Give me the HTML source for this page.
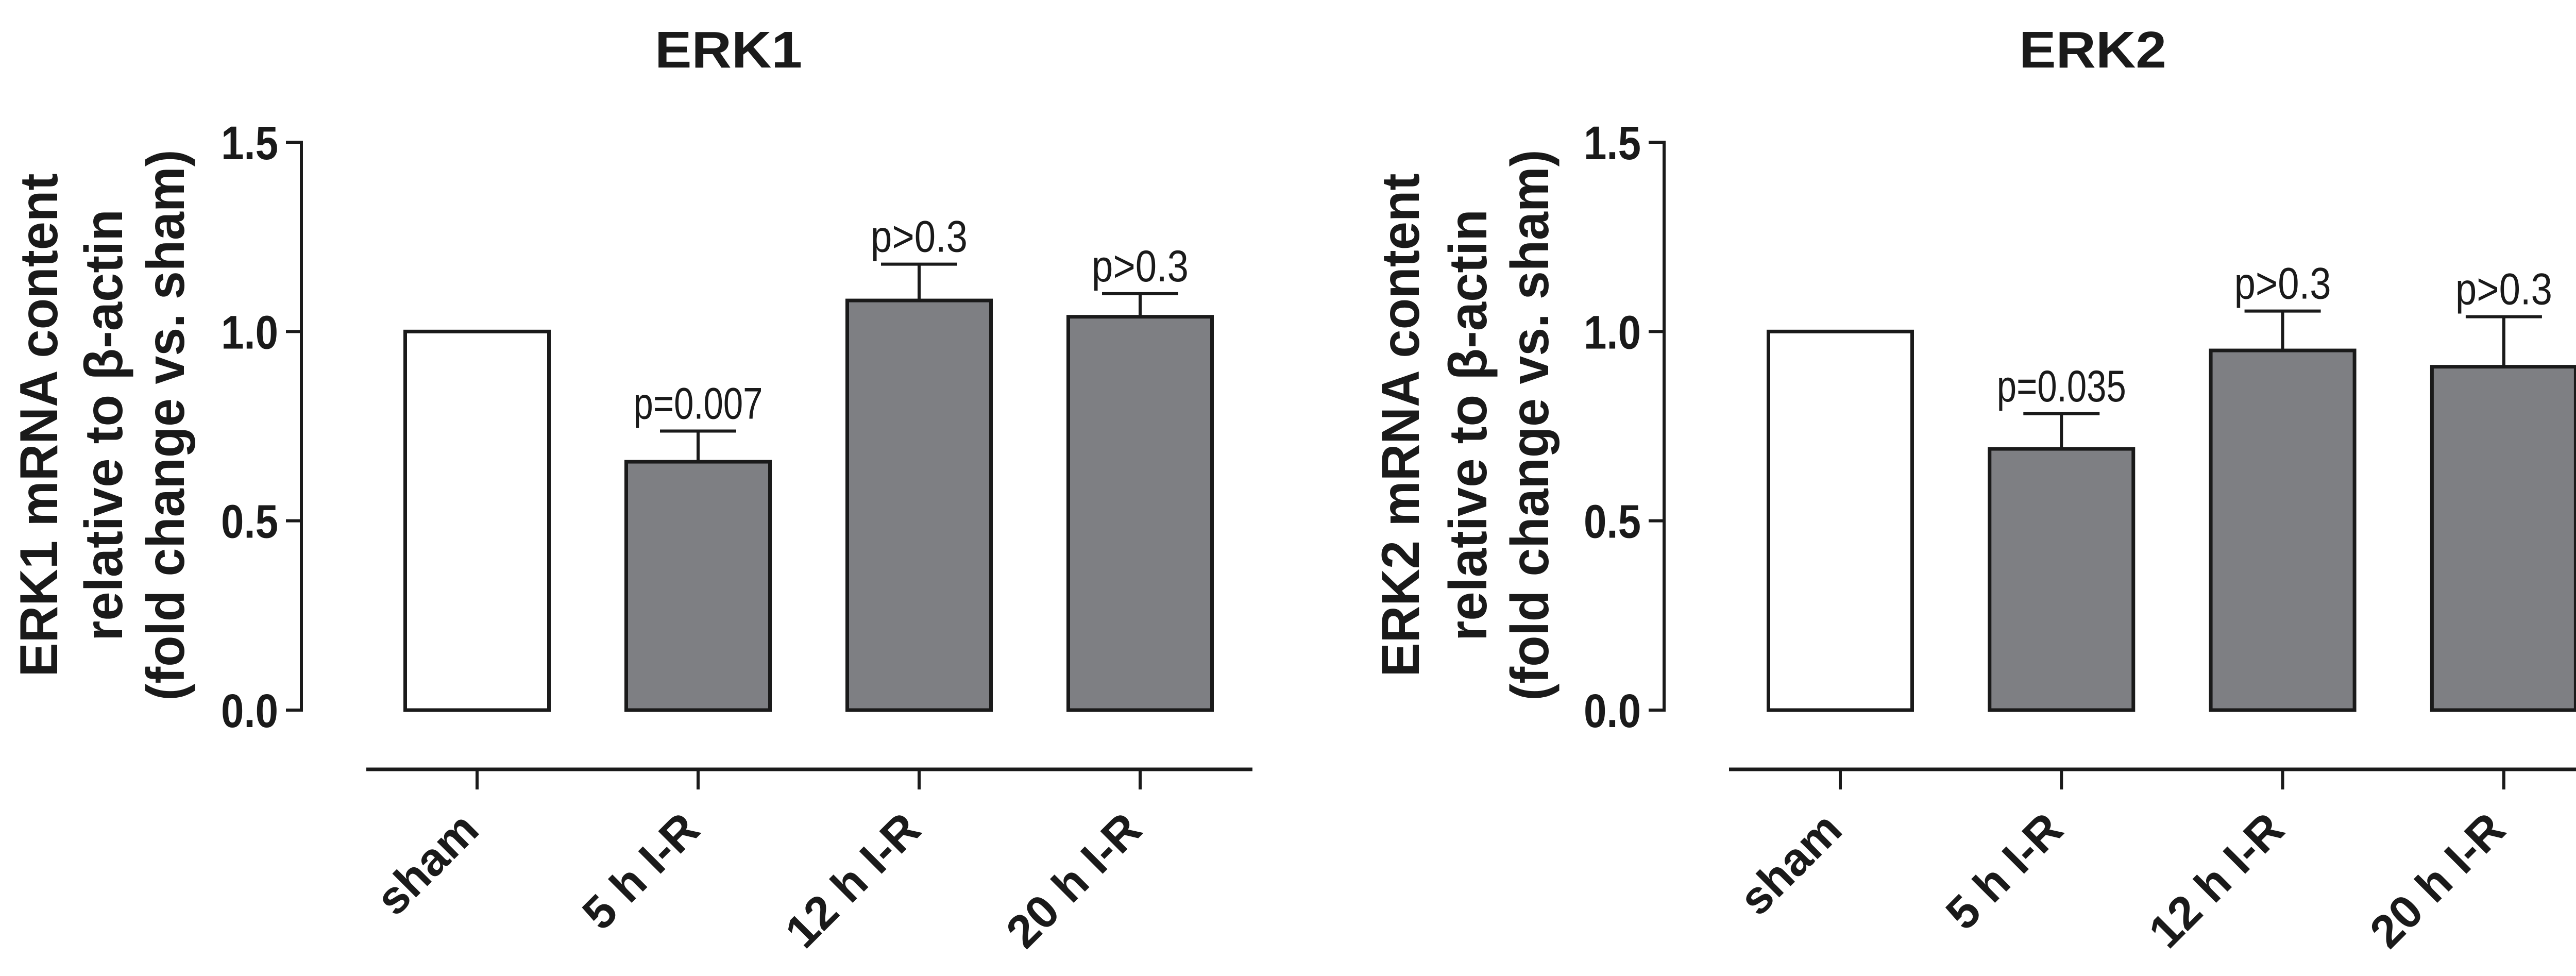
<!DOCTYPE html>
<html><head><meta charset="utf-8"><style>
html,body{margin:0;padding:0;background:#fff}
svg{display:block}
text{font-family:"Liberation Sans",Arial,sans-serif;fill:#1a1a1a}
</style></head><body>
<svg id="fig" width="5100" height="1894" viewBox="0 0 5100 1894" xmlns="http://www.w3.org/2000/svg"></svg>
<script>
const categories = ["sham", "5 h I-R", "12 h I-R", "20 h I-R"];
const erk1Values = [1.0, 0.656, 1.082, 1.039];
const erk1Errors = [0, 0.081, 0.096, 0.061];
const erk1PLabels = ["", "p=0.007", "p>0.3", "p>0.3"];
const erk2Values = [1.0, 0.690, 0.950, 0.907];
const erk2Errors = [0, 0.093, 0.104, 0.132];
const erk2PLabels = ["", "p=0.035", "p>0.3", "p>0.3"];
const yTicks = [0.0, 0.5, 1.0, 1.5];
const yTickLabels = ["0.0", "0.5", "1.0", "1.5"];

const NS = "http://www.w3.org/2000/svg";
const svg = document.getElementById("fig");
function mk(tag, attrs, parent) {
  const e = document.createElementNS(NS, tag);
  for (const k in attrs) e.setAttribute(k, attrs[k]);
  (parent || svg).appendChild(e);
  return e;
}

function panel(cfg) {
  const g = mk("g", {});
  
  
  const y0 = 1378, y15 = 276;
  const yScale = v => y0 - (v / 1.5) * (y0 - y15);
  const xScale = i => cfg.tick0 + i * cfg.step;
  const barW = 285;

  const t = mk("text", {x: cfg.titleX, y: 131, "text-anchor": "middle", "font-size": 100, "font-weight": "bold", textLength: 286, lengthAdjust: "spacingAndGlyphs"}, g);
  t.textContent = cfg.title;
  
  

  const ya = mk("line", {x1: cfg.axisX, y1: y15 - 3, x2: cfg.axisX, y2: y0 + 3, stroke: "#1a1a1a", "stroke-width": 6}, g);
  
  
  yTicks.forEach((v, i) => {
    const y = yScale(v);
    const tk = mk("line", {x1: cfg.axisX - 30, y1: y, x2: cfg.axisX, y2: y, stroke: "#1a1a1a", "stroke-width": 6}, g);
    
    
    const tl = mk("text", {x: cfg.axisX - 45, y: y + 33, "text-anchor": "end", "font-size": 92, "font-weight": "bold", textLength: 111, lengthAdjust: "spacingAndGlyphs"}, g);
    tl.textContent = yTickLabels[i];
    
    
  });

  const lines = cfg.yTitle;
  const lens = [977, 838, 1069];
  lines.forEach((s, i) => {
    const tx = mk("text", {x: 0, y: 0, "text-anchor": "middle", "font-size": 104, "font-weight": "bold", textLength: lens[i], lengthAdjust: "spacingAndGlyphs",
      transform: `translate(${cfg.yTitleX[i]},${825}) rotate(-90)`}, g);
    tx.textContent = s;
    
    
  });

  const xa = mk("line", {x1: cfg.xAxisL, y1: 1493, x2: cfg.xAxisR, y2: 1493, stroke: "#1a1a1a", "stroke-width": 7}, g);
  
  

  categories.forEach((c, i) => {
    const cx = xScale(i);
    const tk = mk("line", {x1: cx, y1: 1493, x2: cx, y2: 1532, stroke: "#1a1a1a", "stroke-width": 6}, g);
    
    
    const lb = mk("text", {x: 0, y: 0, "text-anchor": "end", "font-size": 90, "font-weight": "bold",
      transform: `translate(${cx + 8},${1615}) rotate(-45)`}, g);
    lb.textContent = c;
    
    

    const v = cfg.values[i], e = cfg.errors[i];
    const top = yScale(v);
    if (e > 0) {
      const et = yScale(v + e);
      const el = mk("line", {x1: cx, y1: top, x2: cx, y2: et, stroke: "#1a1a1a", "stroke-width": 6}, g);
      
      
      const ec = mk("line", {x1: cx - 74, y1: et, x2: cx + 74, y2: et, stroke: "#1a1a1a", "stroke-width": 6}, g);
      
      
    }
    const r = mk("rect", {x: cx - barW / 2 + 3, y: top, width: barW - 6, height: y0 - top,
      fill: i === 0 ? "#ffffff" : "#7e7f83", stroke: "#1a1a1a", "stroke-width": 7}, g);
    
    
    if (cfg.pLabels[i]) {
      const pl = cfg.pLabels[i];
      const pt = mk("text", {x: cx, y: yScale(v + e) - 24, "text-anchor": "middle", "font-size": 86,
        textLength: pl.length > 5 ? 251 : 188, lengthAdjust: "spacingAndGlyphs"}, g);
      pt.textContent = pl;
      
      
    }
  });
}

panel({name: "erk1-panel", title: "ERK1", titleX: 1414, axisX: 585, tick0: 926, step: 429,
  xAxisL: 711, xAxisR: 2431, yTitleX: [111, 237, 357],
  yTitle: ["ERK1 mRNA content", "relative to \u03b2-actin", "(fold change vs. sham)"],
  values: erk1Values, errors: erk1Errors, pLabels: erk1PLabels});
panel({name: "erk2-panel", title: "ERK2", titleX: 4062, axisX: 3230, tick0: 3572, step: 429.3,
  xAxisL: 3356, xAxisR: 5073, yTitleX: [2754, 2885, 3005],
  yTitle: ["ERK2 mRNA content", "relative to \u03b2-actin", "(fold change vs. sham)"],
  values: erk2Values, errors: erk2Errors, pLabels: erk2PLabels});
</script>
</body></html>
